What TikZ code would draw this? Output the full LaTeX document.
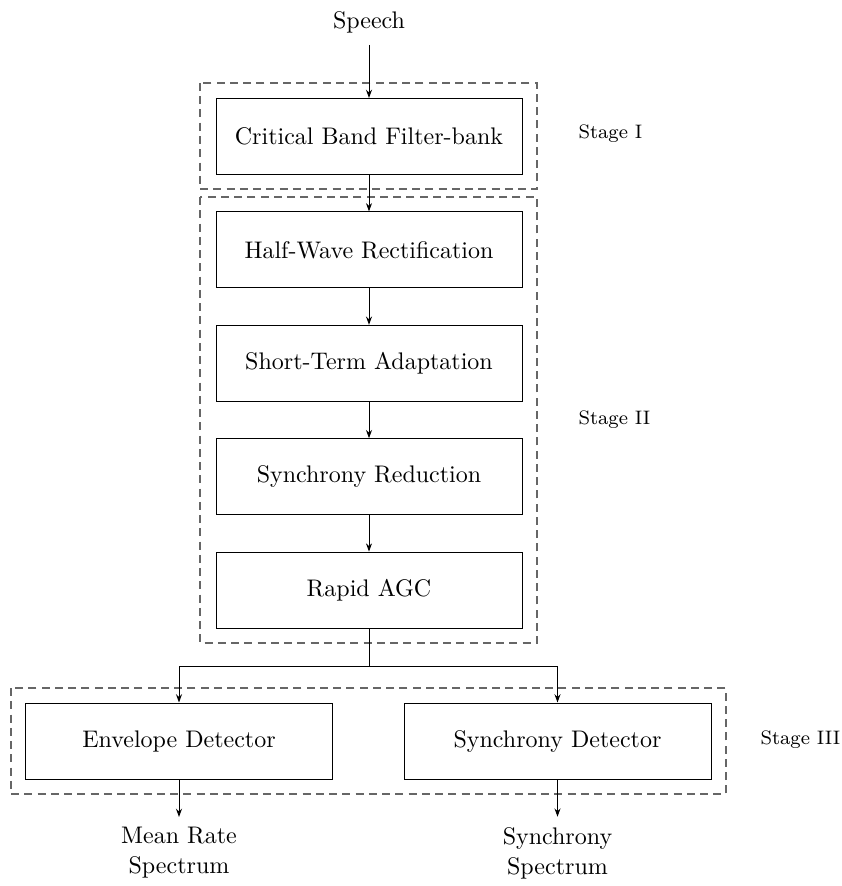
\documentclass[tikz,border=0pt]{standalone}
\usetikzlibrary{arrows.meta,positioning}
\begin{document}
\begin{tikzpicture}[x=0.4pt,y=-0.4pt,
  every node/.style={font=\fontsize{9.6}{12}\selectfont},
  block/.style={draw, line width=0.4pt, minimum width=122.4pt, minimum height=30.4pt, inner sep=0pt},
  stagebox/.style={draw=black!60, line width=0.45pt, dash pattern=on 3.2pt off 2.1pt},
  stagelabel/.style={anchor=west, inner sep=0pt, font=\fontsize{7.8}{10}\selectfont},
  outlabel/.style={align=center, font=\fontsize{9.6}{12}\selectfont, inner sep=0pt},
  flow/.style={line width=0.4pt, -{Stealth[length=3.3pt,width=2.4pt]}}
]
\useasboundingbox (0,0) rectangle (841,886);
% stage frames
\draw[stagebox] (200,83) rectangle (537,189);
\draw[stagebox] (200,197) rectangle (537,643);
\draw[stagebox] (11,688) rectangle (726,794);
% nodes
\node[inner sep=0pt] (speech) at (369,22) {Speech};
\node[block] (b1) at (369,136.5) {Critical Band Filter-bank};
\node[block] (b2) at (369,249.9) {Half-Wave Rectification};
\node[block] (b3) at (369,363.3) {Short-Term Adaptation};
\node[block] (b4) at (369,476.7) {Synchrony Reduction};
\node[block] (b5) at (369,590.1) {Rapid AGC};
\node[block] (env) at (179,741) {Envelope Detector};
\node[block, minimum width=122.8pt] (syn) at (557.5,741) {Synchrony Detector};
\node[outlabel] (o1) at (179,853) {Mean Rate\\Spectrum};
\node[outlabel] (o2) at (557.5,853) {Synchrony\\Spectrum};
\node[stagelabel] (s1) at (578,134) {Stage I};
\node[stagelabel] (s2) at (578,420) {Stage II};
\node[stagelabel] (s3) at (760,740) {Stage III};
\coordinate (split) at (369,666);
% connectors
\draw[flow] ([yshift=-9.2pt]speech.center) -- (b1.north);
\draw[flow] (b1) -- (b2);
\draw[flow] (b2) -- (b3);
\draw[flow] (b3) -- (b4);
\draw[flow] (b4) -- (b5);
\draw[line width=0.4pt] (b5.south) -- (split);
\draw[flow] (split) -| (env.north);
\draw[flow] (split) -| (syn.north);
\draw[flow] (env.south) -- ([yshift=4pt]o1.north);
\draw[flow] (syn.south) -- ([yshift=4pt]o2.north);
\end{tikzpicture}
\end{document}
